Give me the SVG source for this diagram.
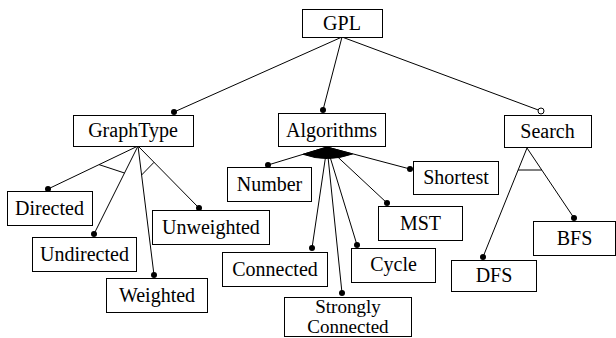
<svg xmlns="http://www.w3.org/2000/svg" width="616" height="338" viewBox="0 0 616 338">
<style>
.box{fill:#fff;stroke:#000;stroke-width:1}
.ln{stroke:#000;stroke-width:1;fill:none}
.dot{fill:#000}
.odot{fill:#fff;stroke:#000;stroke-width:1}
text{font-family:'Liberation Serif','DejaVu Serif',serif;font-size:20px;text-anchor:middle;fill:#000}
</style>
<rect width="616" height="338" fill="#fff"/>
<g id="connectors">
<line class="ln" x1="342" y1="37" x2="174" y2="112"/>
<line class="ln" x1="342" y1="37" x2="323" y2="110"/>
<line class="ln" x1="342" y1="37" x2="541" y2="111"/>
<circle class="dot" cx="174" cy="112" r="3"/>
<circle class="dot" cx="323" cy="110" r="3"/>
<circle class="odot" cx="541" cy="111" r="3"/>
<line class="ln" x1="138" y1="146" x2="48" y2="189"/>
<line class="ln" x1="138" y1="146" x2="94" y2="234"/>
<line class="ln" x1="138" y1="146" x2="154" y2="275"/>
<line class="ln" x1="138" y1="146" x2="199" y2="208"/>
<line class="ln" x1="99" y1="164.6" x2="124.5" y2="173"/>
<line class="ln" x1="141.6" y1="175" x2="154" y2="162.3"/>
<circle class="dot" cx="48" cy="189" r="3"/>
<circle class="dot" cx="94" cy="234" r="3"/>
<circle class="dot" cx="154" cy="275" r="3"/>
<circle class="dot" cx="199" cy="208" r="3"/>
<path d="M327,147 L303,154.3 Q327,163 352.5,154 Z" fill="#000" stroke="#000" stroke-width="1"/>
<line class="ln" x1="327" y1="147" x2="268" y2="165"/>
<line class="ln" x1="327" y1="147" x2="410" y2="169"/>
<line class="ln" x1="327" y1="147" x2="387" y2="203"/>
<line class="ln" x1="327" y1="147" x2="357" y2="245"/>
<line class="ln" x1="327" y1="147" x2="312" y2="248"/>
<line class="ln" x1="327" y1="147" x2="342" y2="293"/>
<circle class="dot" cx="268" cy="165" r="3"/>
<circle class="dot" cx="410" cy="169" r="3"/>
<circle class="dot" cx="387" cy="203" r="3"/>
<circle class="dot" cx="357" cy="245" r="3"/>
<circle class="dot" cx="312" cy="248" r="3"/>
<circle class="dot" cx="342" cy="293" r="3"/>
<line class="ln" x1="527" y1="148" x2="483" y2="257"/>
<line class="ln" x1="527" y1="148" x2="574" y2="218"/>
<line class="ln" x1="518.1" y1="170" x2="541.8" y2="170"/>
<circle class="dot" cx="483" cy="257" r="3"/>
<circle class="dot" cx="574" cy="218" r="3"/>
</g>
<g id="GPL"><rect class="box" x="302.5" y="9.5" width="80" height="28"/><text x="342" y="29.5">GPL</text></g>
<g id="GraphType"><rect class="box" x="73.5" y="115.5" width="120" height="31"/><text x="133" y="137">GraphType</text></g>
<g id="Algorithms"><rect class="box" x="278.5" y="113.5" width="107" height="33"/><text x="331.5" y="137">Algorithms</text></g>
<g id="Search"><rect class="box" x="504.5" y="115.5" width="87" height="32"/><text x="547.5" y="137.5">Search</text></g>
<g id="Directed"><rect class="box" x="7.5" y="191.5" width="85" height="34"/><text x="49.5" y="214.5">Directed</text></g>
<g id="Undirected"><rect class="box" x="32.5" y="237.5" width="104" height="34"/><text x="84.5" y="260.5">Undirected</text></g>
<g id="Weighted"><rect class="box" x="106.5" y="278.5" width="101" height="34"/><text x="157" y="301.5">Weighted</text></g>
<g id="Unweighted"><rect class="box" x="152.5" y="210.5" width="117" height="34"/><text x="211" y="234">Unweighted</text></g>
<g id="Number"><rect class="box" x="227.5" y="167.5" width="84" height="34"/><text x="269.5" y="190.5">Number</text></g>
<g id="Shortest"><rect class="box" x="413.5" y="161.5" width="85" height="33"/><text x="456" y="184">Shortest</text></g>
<g id="MST"><rect class="box" x="378.5" y="206.5" width="84" height="34"/><text x="420.5" y="229.5">MST</text></g>
<g id="Cycle"><rect class="box" x="351.5" y="248.5" width="84" height="34"/><text x="393.5" y="271">Cycle</text></g>
<g id="Connected"><rect class="box" x="222.5" y="252.5" width="105" height="34"/><text x="275" y="275.5">Connected</text></g>
<g id="StronglyConnected"><rect class="box" x="284.5" y="297.5" width="127" height="39"/><text x="348" y="312.5" style="font-size:19px">Strongly</text><text x="348" y="333" style="font-size:19px">Connected</text></g>
<g id="DFS"><rect class="box" x="451.5" y="260.5" width="85" height="31"/><text x="494" y="282">DFS</text></g>
<g id="BFS"><rect class="box" x="533.5" y="221.5" width="82" height="34"/><text x="574.5" y="244.5">BFS</text></g>
</svg>
